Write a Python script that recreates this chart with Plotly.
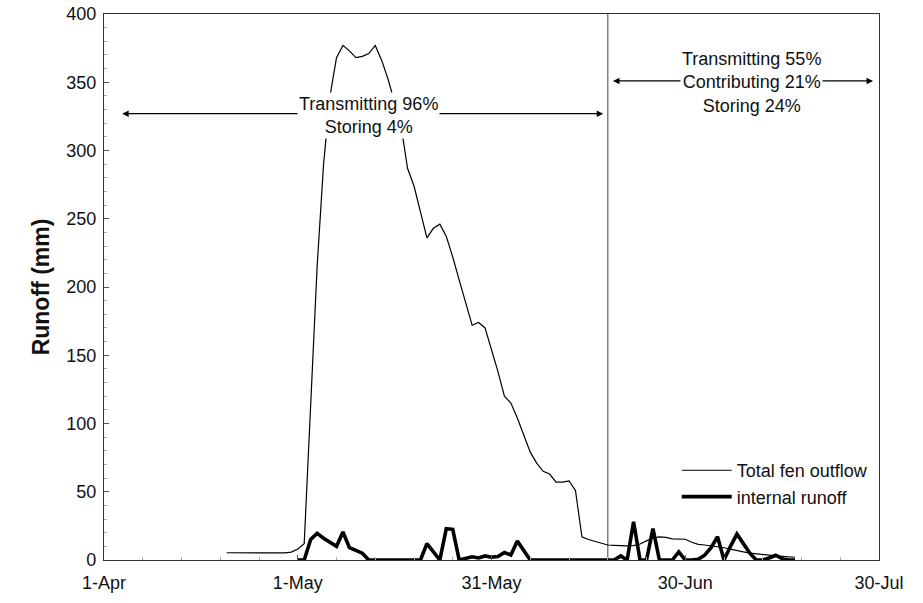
import plotly.graph_objects as go
import pandas as pd

# ---------------- data ----------------
total_start = "2001-04-20"
total_outflow = [
    5.3, 5.3, 5.3, 5.2, 5.1, 5.0, 5.0, 5.0, 5.0, 5.2,      # 20-Apr .. 29-Apr
    5.8, 8.0, 12, 110, 215, 290, 340, 368, 377, 373,      # 30-Apr .. 9-May
    368, 369, 371, 377, 366, 352, 335, 318, 287, 274,     # 10-May .. 19-May
    255, 236, 243, 246, 237, 222, 205, 188, 172, 174,     # 20-May .. 29-May
    170, 154, 138, 120, 115, 104, 92, 79, 71, 65,         # 30-May .. 8-Jun
    63, 57, 57, 58, 51, 17, 15, 13.5, 12, 11,             # 9-Jun .. 18-Jun
    10.7, 10.4, 10.3, 10.5, 11.7, 14, 16, 17, 16.6, 15.5, # 19-Jun .. 28-Jun
    15.4, 15.2, 13, 11.5, 11, 10.5, 9.8, 9, 8, 6.8,       # 29-Jun .. 8-Jul
    6, 5, 4.4, 4, 3.5, 3, 2.7, 2.2, 2,                    # 9-Jul .. 17-Jul
]

internal_start = "2001-05-01"
internal_runoff = [
    0, 0, 15, 19.5, 16, 13, 10, 20.5, 9, 7,               # 1-May .. 10-May
    5, 0, 0, 0, 0, 0, 0, 0, 0, 0,                         # 11-May .. 20-May
    12, 6, 0, 23, 22.5, 0, 1, 2.4, 1.5, 3,                # 21-May .. 30-May
    2, 2.5, 5.5, 3.7, 14, 7, 0, 0, 0, 0,                  # 31-May .. 9-Jun
    0, 0, 0, 0, 0, 0, 0, 0, 0, 0,                         # 10-Jun .. 19-Jun
    3, 0, 28, 0, 0, 23, 0, 0, 0, 6,                       # 20-Jun .. 29-Jun
    0, 0, 0.5, 3.5, 9, 17, 0, 10, 19, 12,                 # 30-Jun .. 9-Jul
    5, 0, 0, 1.5, 3.5, 1, 0, 0,                           # 10-Jul .. 17-Jul
]

tick_dates = ["2001-04-01", "2001-05-01", "2001-05-31", "2001-06-30", "2001-07-30"]
tick_labels = ["1-Apr", "1-May", "31-May", "30-Jun", "30-Jul"]
x_range = ["2001-04-01", "2001-07-30"]

divider_date = "2001-06-18"
left_arrow = ["2001-04-03 14:00", "2001-06-17 07:00"]
left_arrow_y = 327
right_arrow = ["2001-06-18 14:00", "2001-07-29 02:00"]
right_arrow_y = 351
left_text = "Transmitting 96%<br>Storing 4%"
left_text_pos = ("2001-05-11 22:00", 326)
right_text = "Transmitting 55%<br>Contributing 21%<br>Storing 24%"
right_text_pos = ("2001-07-10 05:00", 350)

# ---------------- figure ----------------
FONT = "Liberation Sans, Arial, sans-serif"
INK = "#111111"

total_x = pd.date_range(total_start, periods=len(total_outflow), freq="D")
internal_x = pd.date_range(internal_start, periods=len(internal_runoff), freq="D")

fig = go.Figure()
fig.add_trace(go.Scatter(x=total_x, y=total_outflow, mode="lines",
                         name="Total fen outflow",
                         line=dict(color="black", width=1.2)))
fig.add_trace(go.Scatter(x=internal_x, y=internal_runoff, mode="lines",
                         name="internal runoff",
                         line=dict(color="black", width=3.6)))

fig.add_shape(type="line", xref="x", yref="y", x0=divider_date, x1=divider_date,
              y0=0, y1=400, line=dict(color="#808080", width=1.5), layer="below")

for (a, b), yv in ((left_arrow, left_arrow_y), (right_arrow, right_arrow_y)):
    fig.add_annotation(x=b, y=yv, ax=a, ay=yv, xref="x", yref="y",
                       axref="x", ayref="y", text="", showarrow=True,
                       arrowhead=2, startarrowhead=2, arrowside="end+start",
                       arrowsize=1, arrowwidth=1.3, arrowcolor="black",
                       standoff=0, startstandoff=0)

for txt, (xv, yv) in ((left_text, left_text_pos), (right_text, right_text_pos)):
    fig.add_annotation(x=xv, y=yv, xref="x", yref="y", text=txt,
                       showarrow=False, bgcolor="white", borderpad=1,
                       font=dict(family=FONT, size=18, color=INK),
                       align="center")

fig.update_layout(
    width=923, height=603,
    margin=dict(l=104, r=44, t=14, b=43),
    paper_bgcolor="white", plot_bgcolor="white",
    font=dict(family=FONT, size=18, color=INK),
    showlegend=True,
    legend=dict(x=0.739, y=0.14, xanchor="left", yanchor="middle",
                bgcolor="rgba(0,0,0,0)", font=dict(size=18, color=INK),
                itemwidth=50, tracegroupgap=0),
)
fig.update_xaxes(
    type="date", range=x_range, tickvals=tick_dates, ticktext=tick_labels,
    showline=True, linecolor="#333333", linewidth=1.3, mirror=True,
    ticks="inside", ticklen=5, tickcolor="#555555",
    minor=dict(ticks="inside", ticklen=3, dtick=6 * 86400000,
               tick0="2001-04-01", tickcolor="#aaaaaa"),
    showgrid=False, zeroline=False, ticklabelstandoff=6,
    tickfont=dict(size=18), automargin=False, ticklabeloverflow="allow",
)
fig.update_yaxes(
    range=[0, 400], dtick=50, tick0=0,
    showline=True, linecolor="#333333", linewidth=1.3, mirror=True,
    ticks="inside", ticklen=5, tickcolor="#555555",
    minor=dict(ticks="inside", ticklen=3, dtick=10, tickcolor="#aaaaaa"),
    showgrid=False, zeroline=False, ticklabelstandoff=3,
    tickfont=dict(size=18), automargin=False, ticklabeloverflow="allow",
    title=dict(text="<b>Runoff (mm)</b>", font=dict(size=23), standoff=10),
)

# remove the browser's default 8px page margin so the figure sits at (0, 0)
fig.write_html("out.html", config={"displayModeBar": False},
               post_script="document.body.style.margin='0px';")
